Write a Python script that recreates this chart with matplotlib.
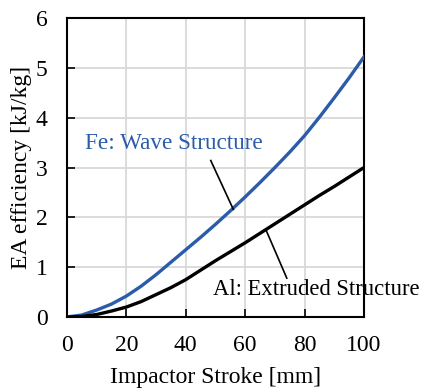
import matplotlib
matplotlib.use('Agg')
import matplotlib.pyplot as plt

plt.rcParams['font.family'] = ['Liberation Serif', 'DejaVu Serif']

stroke = [0, 5, 10, 15, 20, 25, 30, 35, 40, 45, 50, 55, 60, 65, 70, 75, 80, 85, 90, 95, 100]
fe_wave = [0, 0.04, 0.14, 0.26, 0.42, 0.62, 0.85, 1.1, 1.35, 1.6, 1.86, 2.13, 2.41, 2.70, 3.0, 3.31, 3.64, 4.01, 4.40, 4.80, 5.22]
al_extruded = [0, 0.01, 0.05, 0.12, 0.2, 0.31, 0.45, 0.59, 0.75, 0.94, 1.13, 1.31, 1.49, 1.68, 1.87, 2.06, 2.25, 2.44, 2.62, 2.81, 3.0]

fig = plt.figure(figsize=(4.25, 3.88), dpi=100)
ax = fig.add_axes([67/425, 1-317/388, 297/425, 299/388])

ax.plot(stroke, fe_wave, color='#2a5caa', lw=2.4, zorder=3, solid_joinstyle='round')
ax.plot(stroke, al_extruded, color='black', lw=2.4, zorder=3, solid_joinstyle='round')

ax.set_xlim(0, 100)
ax.set_ylim(0, 6)
ax.set_xticks(range(0, 101, 20))
ax.set_yticks(range(0, 7))
ax.grid(color='#d9d9d9', lw=1.3)
ax.set_axisbelow(True)
for s in ax.spines.values():
    s.set_color('black')
    s.set_linewidth(1.5)
ax.tick_params(direction='in', length=6, width=1.2, labelsize=17,
               top=False, right=False)
ax.tick_params(axis='x', pad=13)
ax.tick_params(axis='y', pad=14)

ax.set_xlabel('Impactor Stroke [mm]', fontsize=17, labelpad=8)
ax.set_ylabel('EA efficiency [kJ/kg]', fontsize=17, labelpad=3)

# labels with leader lines
ax.plot([48.4, 56.0], [3.14, 2.16], color='black', lw=1.2, zorder=4)
ax.text(6.1, 3.49, 'Fe: Wave Structure', color='#2a5caa', fontsize=16.7,
        ha='left', va='center')
ax.plot([74, 67.2], [0.78, 1.72], color='black', lw=1.2, zorder=4)
ax.text(49.2, 0.55, 'Al: Extruded Structure', color='black', fontsize=16.3,
        ha='left', va='center', clip_on=False)

fig.savefig('out.png', dpi=100)
